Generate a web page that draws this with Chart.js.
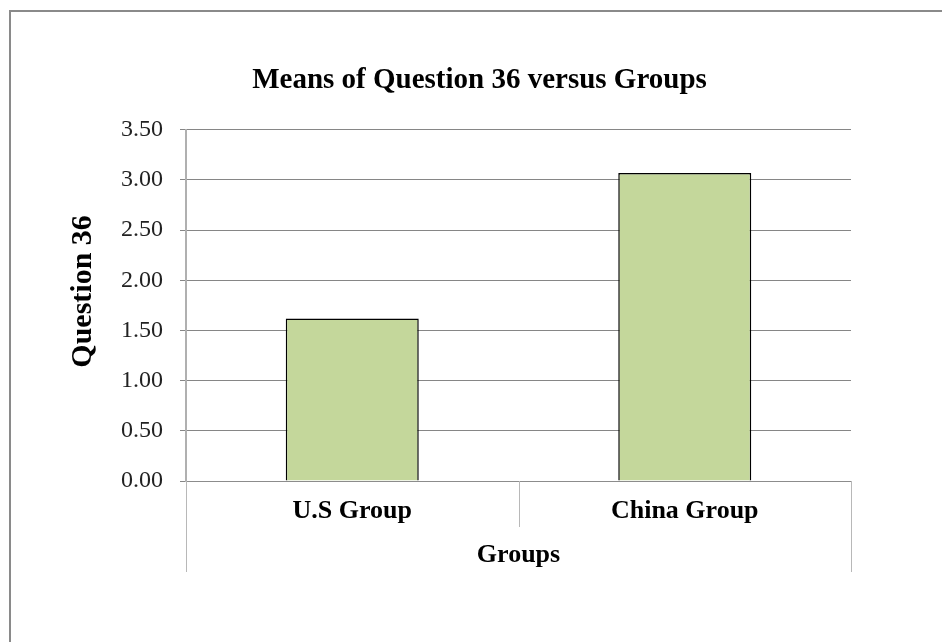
<!DOCTYPE html>
<html>
<head>
<meta charset="utf-8">
<script src="https://cdn.jsdelivr.net/npm/chart.js@4/dist/chart.umd.min.js"></script>
<style>
  html, body { margin: 0; padding: 0; background: #fff; }
  #wrap { width: 942px; height: 642px; }
</style>
</head>
<body>
<div id="wrap"><canvas id="meansChart" width="942" height="642"></canvas></div>
<script>
const groups = ['U.S Group', 'China Group'];
const question36Means = [1.62, 3.07];
const yTicks = [0, 0.5, 1, 1.5, 2, 2.5, 3, 3.5];
const yAxisTitle = 'Question 36';

const SERIF = '"Liberation Serif", "Times New Roman", serif';

// frame line along the top and left edge, title centred on the whole canvas
const frame = {
  id: 'frame',
  afterLayout(chart) {
    if (chart.titleBlock) {
      chart.titleBlock.left = 9;
      chart.titleBlock.right = 950;
    }
  },
  beforeDraw(chart) {
    const ctx = chart.ctx;
    ctx.save();
    ctx.strokeStyle = '#8a8a8a';
    ctx.lineWidth = 2;
    ctx.strokeRect(10, 11, 1000, 1000);
    ctx.restore();
  }
};

// category table dividers under the plot, and the rotated value-axis title
const categoryTable = {
  id: 'categoryTable',
  afterDraw(chart) {
    const x = chart.scales.x;
    const y = chart.scales.y;
    const area = chart.chartArea;
    const ctx = chart.ctx;
    ctx.save();
    ctx.strokeStyle = '#b8b8b8';
    ctx.lineWidth = 1;
    ctx.beginPath();
    const mid = Math.round(x.getPixelForValue(0.5)) + 0.5;
    ctx.moveTo(mid, area.bottom);
    ctx.lineTo(mid, area.bottom + 46);
    [x.left, x.right].forEach(px => {
      const p = Math.round(px) + 0.5;
      ctx.moveTo(p, area.bottom);
      ctx.lineTo(p, x.bottom);
    });
    ctx.stroke();

    // title sits a little above the middle of the value axis
    ctx.translate(y.left + 73, (area.top + area.bottom) / 2 - 14);
    ctx.rotate(-Math.PI / 2);
    ctx.font = 'bold 30px ' + SERIF;
    ctx.fillStyle = '#000';
    ctx.textAlign = 'center';
    ctx.textBaseline = 'middle';
    ctx.fillText(yAxisTitle, 0, 0);
    ctx.restore();
  }
};

new Chart(document.getElementById('meansChart'), {
  type: 'bar',
  data: {
    labels: groups,
    datasets: [{
      label: yAxisTitle,
      data: question36Means,
      backgroundColor: '#c4d79b',
      borderColor: '#000',
      borderWidth: 1.5,
      barPercentage: 0.4,
      categoryPercentage: 1
    }]
  },
  options: {
    responsive: false,
    animation: false,
    layout: { padding: { left: 10, right: 91, top: 63, bottom: 70 } },
    plugins: {
      legend: { display: false },
      tooltip: { enabled: false },
      title: {
        display: true,
        text: 'Means of Question 36 versus Groups',
        color: '#000',
        font: { family: SERIF, size: 29, weight: 'bold' },
        padding: { top: 0, bottom: 32 }
      }
    },
    scales: {
      x: {
        afterFit: s => { s.height = 91; },
        grid: { display: false, drawTicks: false },
        border: { display: true, color: '#8c8c8c', width: 1 },
        ticks: { color: '#000', padding: 15, font: { family: SERIF, size: 26, weight: 'bold' } },
        title: {
          display: true,
          text: 'Groups',
          color: '#000',
          font: { family: SERIF, size: 26, weight: 'bold' },
          padding: { top: 0, bottom: 1 }
        }
      },
      y: {
        min: 0,
        max: 3.5,
        afterFit: s => { s.width = 176; },
        afterBuildTicks: s => { s.ticks = yTicks.map(v => ({ value: v })); },
        grid: { color: '#868686', lineWidth: 1, tickLength: 6 },
        border: { color: '#b0b0b0', width: 2 },
        ticks: {
          color: '#222',
          padding: 17,
          font: { family: SERIF, size: 24 },
          callback: v => Number(v).toFixed(2)
        },
        title: { display: false }
      }
    }
  },
  plugins: [frame, categoryTable]
});
</script>
</body>
</html>
